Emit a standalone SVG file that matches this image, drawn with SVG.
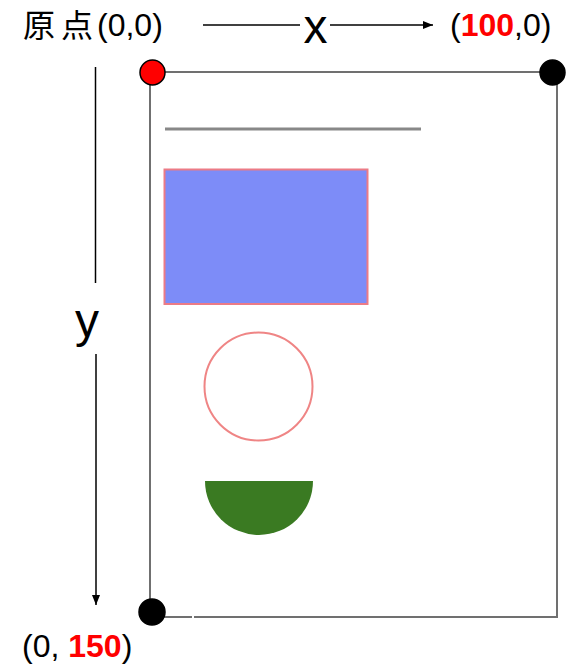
<svg xmlns="http://www.w3.org/2000/svg" width="567" height="667" viewBox="0 0 567 667">
  <style>
    .lbl { font-family: "Liberation Sans", Arial, "Noto Sans CJK SC", sans-serif; font-size: 32px; fill: #000; }
    .cjk { font-family: "Noto Sans CJK JP", "Noto Sans CJK SC", sans-serif; font-size: 32px; fill: #000; }
    .axisname { font-family: "Liberation Sans", Arial, sans-serif; font-size: 48px; fill: #000; text-anchor: middle; }
    .red { fill: #ff0000; font-weight: bold; }
    .axis { stroke: #000; stroke-width: 1.5; fill: none; }
    .page { stroke: #707070; stroke-width: 2; fill: none; }
    .dot { stroke: #000; stroke-width: 1.5; }
  </style>
  <defs>
    <marker id="arrow" viewBox="0 0 10 10" refX="10" refY="5" markerWidth="10" markerHeight="10" markerUnits="userSpaceOnUse" orient="auto">
      <path d="M0,1 L10,5 L0,9 Z" fill="#000"/>
    </marker>
  </defs>
  <rect width="567" height="667" fill="#fff"/>

  <g id="labels">
    <text class="cjk" x="23" y="37" letter-spacing="6">原点</text>
    <text class="lbl" x="97" y="36">(0,0)</text>
    <text class="lbl" x="450" y="36">(<tspan class="red">100</tspan>,0)</text>
    <text class="lbl" x="22" y="657">(0, <tspan class="red">150</tspan>)</text>
    <text class="axisname" x="315.5" y="43">x</text>
    <text class="axisname" x="87" y="337">y</text>
  </g>

  <g id="connectors">
    <line class="axis" x1="203" y1="25" x2="300" y2="25"/>
    <line class="axis" x1="330" y1="25" x2="433" y2="25" marker-end="url(#arrow)"/>
    <line class="axis" x1="95.5" y1="67" x2="95.5" y2="283"/>
    <line class="axis" x1="96" y1="354" x2="96" y2="605" marker-end="url(#arrow)"/>
  </g>

  <g id="page">
    <path class="page" d="M192,617 L150,617 L150,72 L557,72 L557,617 L194,617"/>
  </g>

  <g id="line-shape">
    <line x1="165" y1="129" x2="421" y2="129" stroke="#888" stroke-width="3"/>
  </g>
  <g id="rect-shape">
    <rect x="164.5" y="169.5" width="203" height="134.5" fill="#7d8cf8" stroke="#ec7b86" stroke-width="2"/>
  </g>
  <g id="circle-shape">
    <circle cx="258.5" cy="386.5" r="54" fill="none" stroke="#ef8585" stroke-width="2"/>
  </g>
  <g id="halfcircle-shape">
    <path d="M205,481 L313,481 A54,54 0 0 1 205,481 Z" fill="#3a7a22"/>
  </g>

  <g id="corners">
    <circle class="dot" cx="152.5" cy="72.5" r="12.5" fill="#ff0000"/>
    <circle class="dot" cx="552.5" cy="72.5" r="12.5" fill="#000"/>
    <circle class="dot" cx="152" cy="612" r="13" fill="#000"/>
  </g>
</svg>
